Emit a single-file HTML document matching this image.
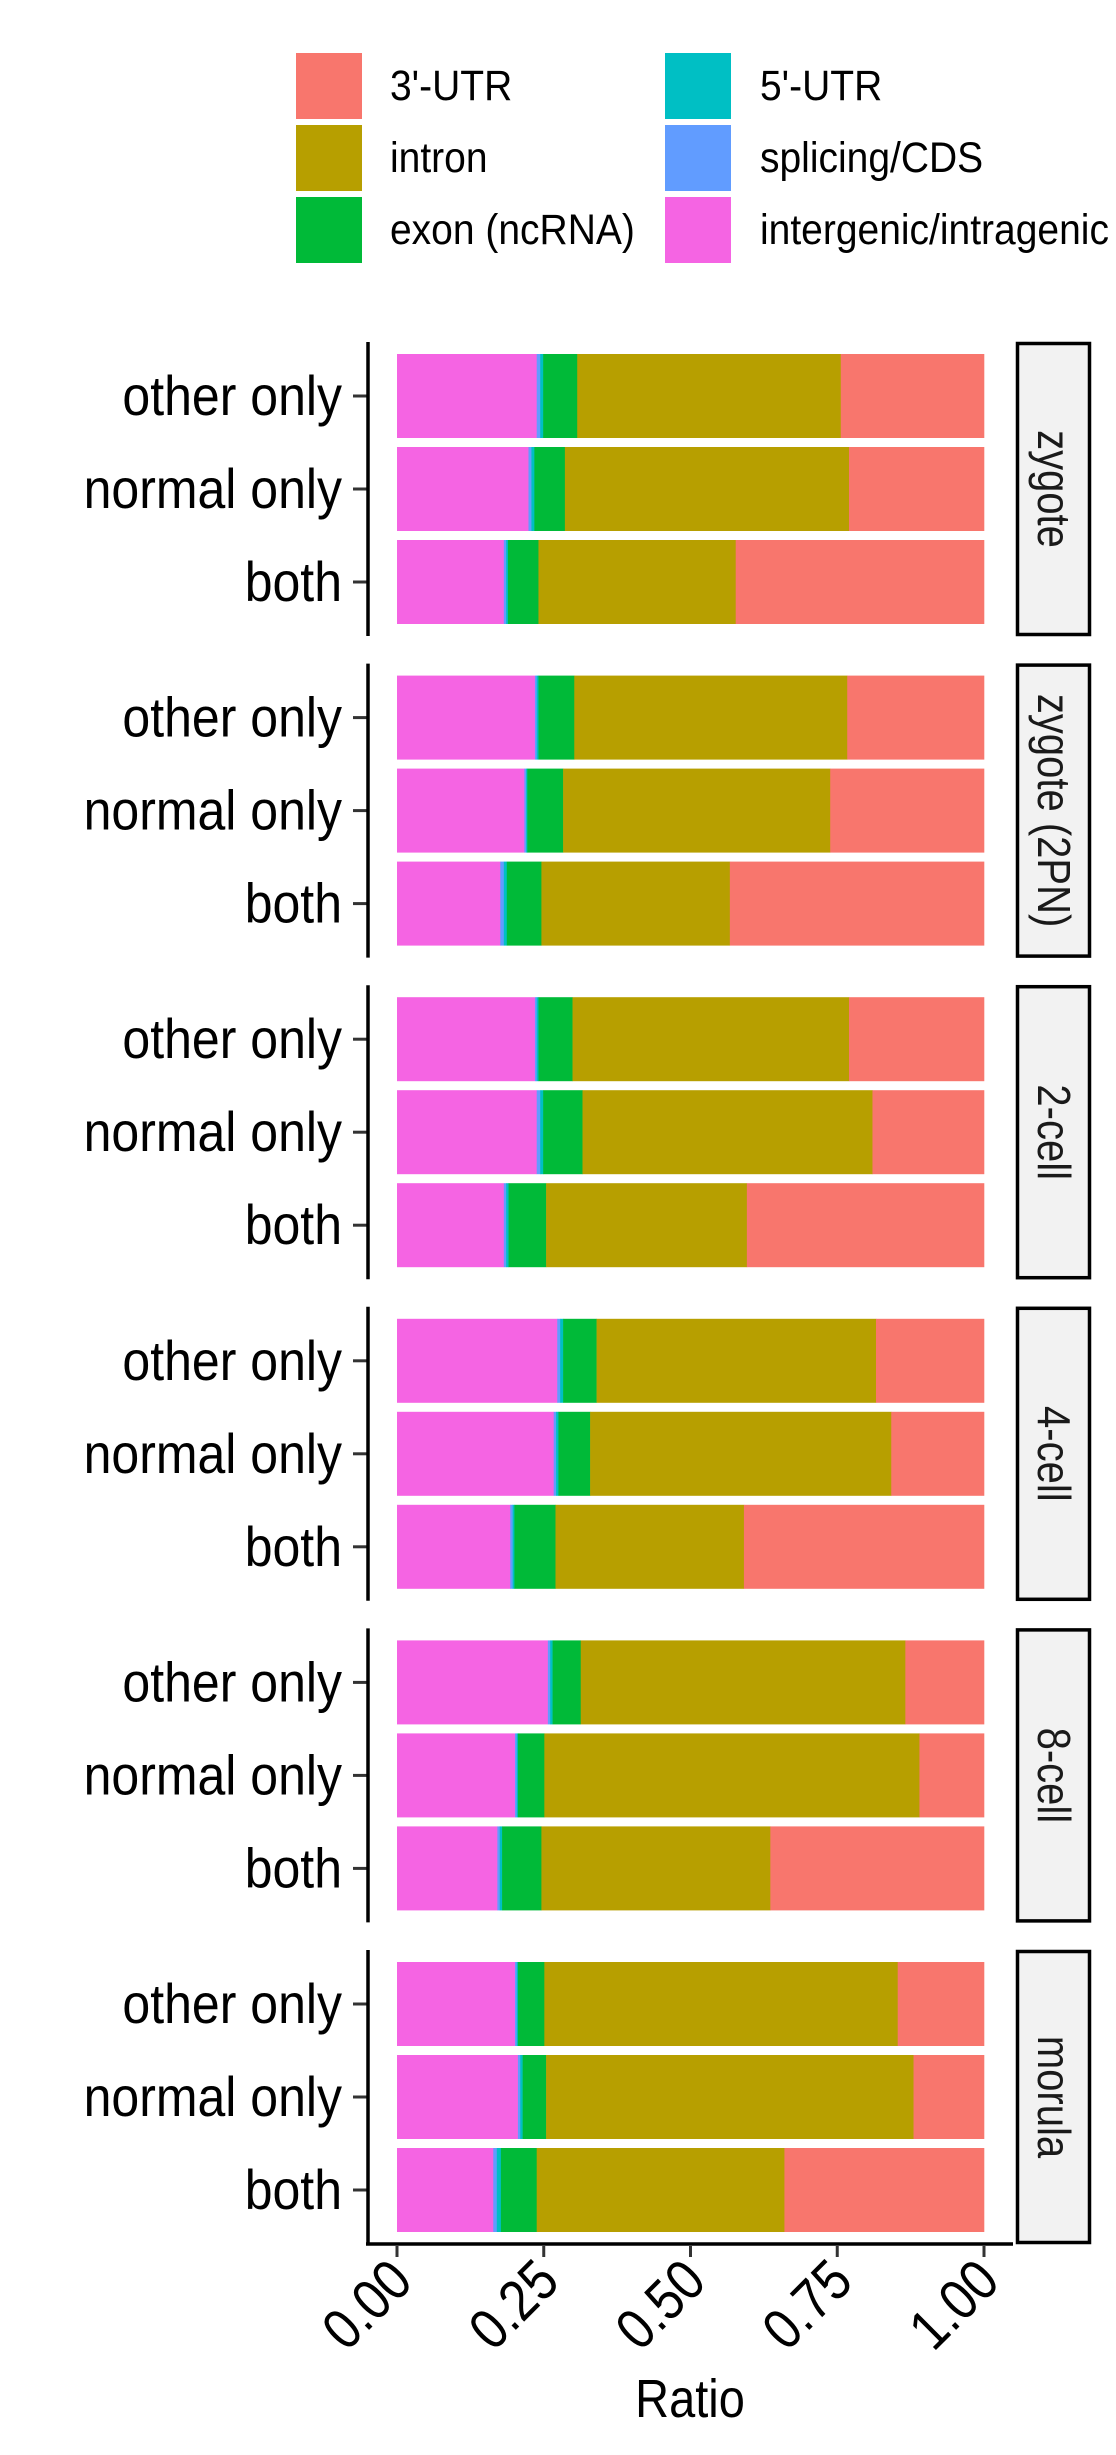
<!DOCTYPE html>
<html><head><meta charset="utf-8"><style>
html,body{margin:0;padding:0;background:#fff;}
svg{display:block;font-family:"Liberation Sans",Arial,sans-serif;}
</style></head><body>
<svg id="chart" width="1116" height="2455" viewBox="0 0 1116 2455" xmlns="http://www.w3.org/2000/svg"></svg>
<script>
const stages = ["zygote","zygote (2PN)","2-cell","4-cell","8-cell","morula"];
const groups = ["other only","normal only","both"];
const categories = ["intergenic/intragenic","splicing/CDS","5'-UTR","exon (ncRNA)","intron","3'-UTR"];
const intergenic = [.238,.224,.182,.235,.217,.176,.235,.238,.182,.273,.267,.193,.257,.201,.171,.201,.206,.164];
const splicing = [.006,.005,.004,.003,.003,.006,.003,.006,.004,.005,.004,.004,.004,.003,.004,.003,.004,.006];
const utr5 = [.005,.005,.003,.003,.002,.005,.003,.005,.004,.005,.004,.003,.004,.002,.004,.002,.004,.007];
const exon = [.058,.052,.052,.061,.061,.059,.058,.067,.064,.057,.054,.070,.048,.045,.067,.045,.040,.061];
const intron = [.449,.484,.336,.465,.455,.321,.471,.494,.342,.476,.513,.321,.553,.639,.390,.602,.626,.422];
const utr3 = [.244,.230,.423,.233,.262,.433,.230,.190,.404,.184,.158,.409,.134,.110,.364,.147,.120,.340];
const xTicks = [0,0.25,0.5,0.75,1];
const xTickLabels = ["0.00","0.25","0.50","0.75","1.00"];

const series = [intergenic,splicing,utr5,exon,intron,utr3];
const colors = ["#F564E3","#619CFF","#00BFC4","#00BA38","#B79F00","#F8766D"];
const legendOrder = [5,2,4,1,3,0];
const NS="http://www.w3.org/2000/svg";
const svg=document.getElementById('chart');
function mk(tag,attrs,parent){const e=document.createElementNS(NS,tag);for(const k in attrs)e.setAttribute(k,attrs[k]);(parent||svg).appendChild(e);return e;}
const X0=397, X1=984;
function xScale(v){return X0+(X1-X0)*v;}
const panelTop=342, panelH=294, panelGap=27.6, bandStep=93, bandOff=54, barH=84;
function yScale(p,g){return panelTop+p*(panelH+panelGap)+bandOff+g*bandStep;}
const SY=1.12;

// legend
legendOrder.forEach((ci,i)=>{
  const col=i%2, row=Math.floor(i/2);
  const kx=col?665:296, ky=53+row*72;
  const g=mk('g',{});
  
  
  mk('rect',{x:kx,y:ky,width:66,height:66,fill:colors[ci]},g);
  const t=mk('text',{x:0,y:0,'font-size':39,fill:'#000',transform:`translate(${col?760:390},${ky+47}) scale(1,1.1)`},g);
  t.textContent=categories[ci];
});

stages.forEach((st,p)=>{
  const top=panelTop+p*(panelH+panelGap);
  const pg=mk('g',{});
  
  
  groups.forEach((gr,g)=>{
    const idx=p*3+g;
    const cy=yScale(p,g);
    let cum=0;
    series.forEach((s,si)=>{
      const r=mk('rect',{x:xScale(cum),y:cy-barH/2,width:xScale(cum+s[idx])-xScale(cum)+0.3,height:barH,fill:colors[si]},pg);
      
      
      cum+=s[idx];
    });
    mk('line',{x1:353,x2:368,y1:cy,y2:cy,stroke:'#333',"stroke-width":3},pg);
    const t=mk('text',{x:0,y:0,'font-size':50,'text-anchor':'end',fill:'#000',transform:`translate(342,${cy+19}) scale(1,${SY})`},pg);
    
    
    t.textContent=gr;
  });
  mk('line',{x1:368,x2:368,y1:top,y2:top+panelH,stroke:'#000',"stroke-width":3.5},pg);
  const sr=mk('rect',{x:1017.5,y:top+1.5,width:72,height:panelH-3,fill:'#F2F2F2',stroke:'#000','stroke-width':3.5},pg);
  
  
  const st_t=mk('text',{x:0,y:0,'font-size':40,'text-anchor':'middle',fill:'#1a1a1a',transform:`translate(1038,${top+panelH/2}) rotate(90) scale(1,1.15)`},pg);
  
  
  st_t.textContent=st;
});

// x axis
const axY=2244;
const ax=mk('line',{x1:366,x2:1013,y1:axY,y2:axY,stroke:'#000','stroke-width':3.5});


xTicks.forEach((v,i)=>{
  const x=xScale(v);
  mk('line',{x1:x,x2:x,y1:axY+2,y2:axY+13,stroke:'#333','stroke-width':3});
  const t=mk('text',{x:0,y:0,'font-size':50,'text-anchor':'end',fill:'#000',transform:`translate(${x+18},${axY+40}) rotate(-45) scale(1,1.15)`});
  
  
  t.textContent=xTickLabels[i];
});
const xt=mk('text',{x:0,y:0,'font-size':47,'text-anchor':'middle',fill:'#000',transform:'translate(690,2417) scale(1,1.15)'});


xt.textContent='Ratio';
</script>
</body></html>
